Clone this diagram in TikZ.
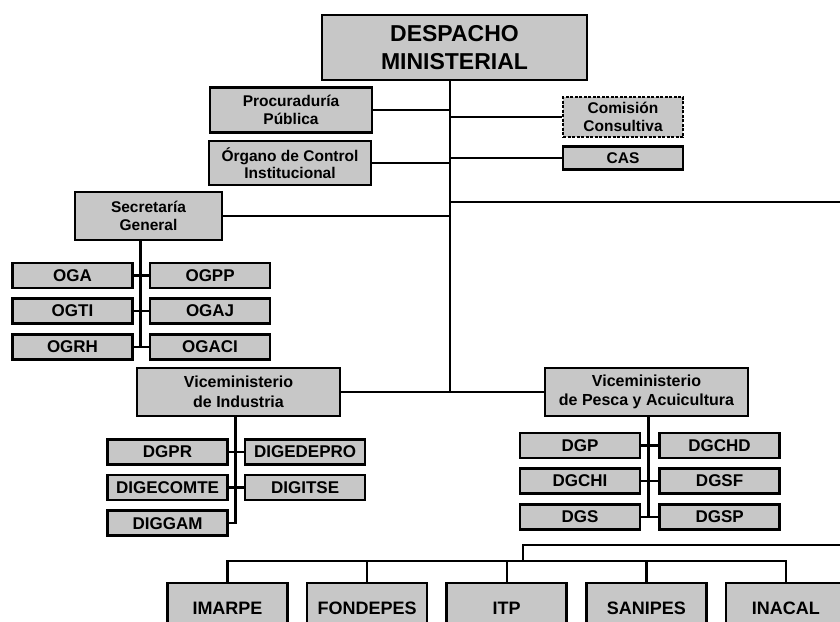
\documentclass[tikz,border=0pt]{standalone}
\usepackage{fontspec}
\setmainfont{Liberation Sans}
\usepackage{tikz}
\usetikzlibrary{positioning}

\begin{document}
\begin{tikzpicture}[-,x=1pt,y=-1pt,line width=2.4pt,node distance=8pt]
		\tikzstyle{box}=[draw, line width=2.6pt, fill=black!22, inner sep=0pt, align=center, font=\bfseries]
		\tikzstyle{mid}=[box, font=\bfseries\fontsize{15.5}{17.5}\selectfont]
		\tikzstyle{dbox}=[mid, dash pattern=on 3pt off 1.5pt]
		\tikzstyle{sub}=[box, minimum width=120pt, minimum height=25pt, font=\bfseries\fontsize{17}{19}\selectfont]
		\tikzstyle{inst}=[box, minimum width=120pt, minimum height=50pt, font=\bfseries\fontsize{18}{20}\selectfont]
		\useasboundingbox (0,0) rectangle (840,621);

			% despacho y organos de apoyo
			\node[box, minimum width=265pt, minimum height=65pt, font=\bfseries\fontsize{23}{28}\selectfont] (dm) at (454.5,47.5) {DESPACHO\\MINISTERIAL};
			\node[mid, minimum width=162pt, minimum height=45pt] (pp) at (291,110) {Procuraduría\\Pública};
			\node[mid, minimum width=162pt, minimum height=44pt] (oci) at (290,163) {Órgano de Control\\Institucional};
			\node[dbox, minimum width=120pt, minimum height=40pt] (cc) at (623,117) {Comisión\\Consultiva};
			\node[mid, minimum width=120pt, minimum height=23pt] (cas) at (623,158) {CAS};
			\node[mid, minimum width=147pt, minimum height=48pt] (sg) at (148.5,216) {Secretaría\\General};
			\node[box, minimum width=203pt, minimum height=48pt, font=\bfseries\fontsize{16}{19.5}\selectfont] (vi) at (238.5,392) {Viceministerio\\de Industria};
			\node[box, minimum width=203pt, minimum height=48pt, font=\bfseries\fontsize{16}{19.5}\selectfont] (vp) at (646.5,392) {Viceministerio\\de Pesca y Acuicultura};

			% oficinas generales
			\node[sub]  (oga) at (72.5,275.5) {OGA};
			\node[sub]  (ogpp) [right=15pt of oga] {OGPP};
			\node[sub]  (ogti) [below=of oga] {OGTI};
			\node[sub]  (ogaj) [below=of ogpp] {OGAJ};
			\node[sub]  (ogrh) [below=of ogti] {OGRH};
			\node[sub]  (ogaci) [below=of ogaj] {OGACI};

			% direcciones de industria
			\node[sub]  (dgpr) at (167.5,452) {DGPR};
			\node[sub]  (digedepro) [right=15pt of dgpr] {DIGEDEPRO};
			\node[sub]  (digecomte) [below=of dgpr] {DIGECOMTE};
			\node[sub]  (digitse) [below=of digedepro] {DIGITSE};
			\node[sub]  (diggam) [below=of digecomte] {DIGGAM};

			% direcciones de pesca
			\node[sub]  (dgp) at (580,445.5) {DGP};
			\node[sub]  (dgchd) [right=17pt of dgp] {DGCHD};
			\node[sub]  (dgchi) [below=of dgp] {DGCHI};
			\node[sub]  (dgsf) [below=of dgchd] {DGSF};
			\node[sub]  (dgs) [below=of dgchi] {DGS};
			\node[sub]  (dgsp) [below=of dgsf] {DGSP};

			% organismos
			\node[inst] (imarpe) at (227.5,608) {IMARPE};
			\node[inst] (fondepes) [right=17pt of imarpe] {FONDEPES};
			\node[inst] (itp) [right=17pt of fondepes] {ITP};
			\node[inst] (sanipes) [right=17pt of itp] {SANIPES};
			\node[inst] (inacal) [right=17pt of sanipes] {INACAL};

			\coordinate (spine) at (450,392);
			\coordinate (sgx) at (140.5,0);
			\coordinate (vix) at (235.5,0);
			\coordinate (vpx) at (648.5,0);
			\coordinate (rightA) at (840,202);
			\coordinate (rightB) at (840,545);
			\coordinate (bus) at (523,561);

			\draw (dm.south -| spine) -- (spine);
			\draw (pp.east) -- (pp.east -| spine);
			\draw (oci.east) -- (oci.east -| spine);
			\draw (cc.west) -- (cc.west -| spine);
			\draw (cas.west) -- (cas.west -| spine);
			\draw (rightA -| spine) -- (rightA);
			\draw (sg.east) -- (sg.east -| spine);
			\draw (vi.east) -- (spine) -- (vp.west);

			\draw (sg.south -| sgx) -- (ogrh.east -| sgx);
			\draw (oga.east) -- (ogpp.west);
			\draw (ogti.east) -- (ogaj.west);
			\draw (ogrh.east) -- (ogaci.west);

			\draw (vi.south -| vix) |- (diggam.east);
			\draw (dgpr.east) -- (digedepro.west);
			\draw (digecomte.east) -- (digitse.west);

			\draw (vp.south -| vpx) -- (dgs.east -| vpx);
			\draw (dgp.east) -- (dgchd.west);
			\draw (dgchi.east) -- (dgsf.west);
			\draw (dgs.east) -- (dgsp.west);

			\draw (rightB) -| (bus);
			\draw (imarpe.north) |- (bus) -| (inacal.north);
			\draw (fondepes.north) -- (fondepes.north |- bus);
			\draw (itp.north) -- (itp.north |- bus);
			\draw (sanipes.north) -- (sanipes.north |- bus);
 	\end{tikzpicture}
\end{document}
